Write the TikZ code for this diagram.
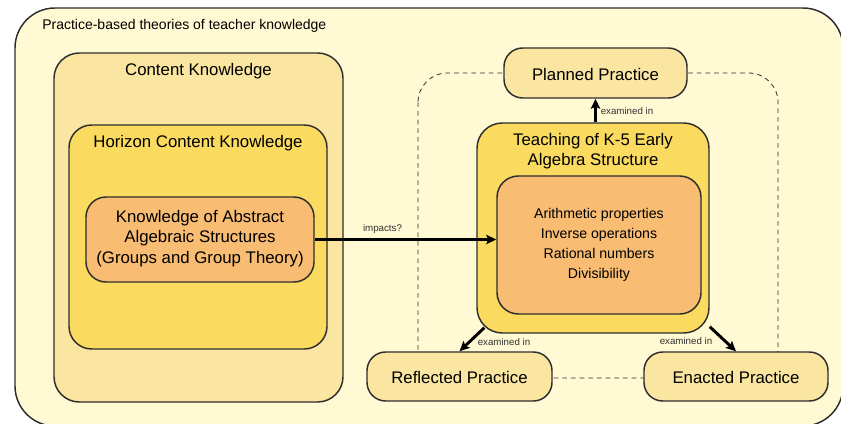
\documentclass[tikz,border=0pt]{standalone}
\usepackage{fontspec}
\setmainfont{Liberation Sans}
\usetikzlibrary{fit,calc,arrows.meta}

\definecolor{creamfill}{HTML}{FFF9D4}
\definecolor{paleorange}{HTML}{FAE5A1}
\definecolor{goldfill}{HTML}{FADB5F}
\definecolor{orangefill}{HTML}{F8BC72}
\definecolor{edgegray}{HTML}{2E2E2E}
\definecolor{labelgray}{HTML}{333333}

\tikzset{
  box/.style={draw=edgegray, line width=1.1pt, inner sep=0pt},
  boxtitle/.style={font=\fontsize{12.6}{15.4}\selectfont, align=center, inner sep=0.75pt},
  practicetext/.style={font=\fontsize{12.6}{15}\selectfont, inner sep=0.75pt},
  smalllabel/.style={font=\fontsize{7.3}{8.8}\selectfont, text=labelgray, inner sep=0.75pt},
  knowarrow/.style={-{Stealth[length=7.5pt,width=7pt,inset=1.5pt]}, line width=2.2pt},
}

\begin{document}
\begin{tikzpicture}[x=0.75pt,y=0.75pt,yscale=-1,xscale=1]
\useasboundingbox (0,0) rectangle (841,424);

%Shape: outer frame
\node [box, fill=creamfill, rounded corners=30pt, fit={(15,8) (843,426)}] (frame) {};
% Text Node
\node [anchor=west, inner sep=0.75pt, font=\fontsize{10.5}{12}\selectfont] (frametitle) at (41,26) {Practice-based theories of teacher knowledge};

%Shape: dashed cycle of practices
\draw [edgegray, line width=0.6pt, dash pattern=on 3.5pt off 3pt, rounded corners=22pt] (418,73) rectangle (778,378);

%Shape: left nest
\node [box, fill=paleorange, rounded corners=19pt, fit={(54,53) (343,402)}] (content) {};
\node [boxtitle] (contenttitle) at (198.5,71) {Content Knowledge};
\node [box, fill=goldfill, rounded corners=17pt, fit={(69,125) (327,349)}] (horizon) {};
\node [boxtitle] (horizontitle) at (198,143) {Horizon Content Knowledge};
\node [box, fill=orangefill, rounded corners=15pt, fit={(86,197) (314,282)}] (abstract) {};
\node [boxtitle] (abstracttext) at (200,238.5) {Knowledge of Abstract\\Algebraic Structures\\(Groups and Group Theory)};

%Shape: right nest
\node [box, fill=goldfill, rounded corners=19pt, fit={(477,123) (709,333)}] (teach) {};
\node [boxtitle] (teachtitle) at (593,151) {Teaching of K-5 Early\\Algebra Structure};
\node [box, fill=orangefill, rounded corners=16pt, fit={(497,176) (701,314)}] (topics) {};
\node [align=center, inner sep=0.75pt, font=\fontsize{10.6}{15}\selectfont] (topicstext) at (599,245) {Arithmetic properties\\Inverse operations\\Rational numbers\\Divisibility};

%Shape: practices
\node [box, fill=paleorange, rounded corners=14pt, fit={(504,48) (687,98)}] (planned) {};
\node [practicetext] (plannedtext) at (595.5,74) {Planned Practice};
\node [box, fill=paleorange, rounded corners=14pt, fit={(367,352) (552,401)}] (reflected) {};
\node [practicetext] (reflectedtext) at (459.5,377) {Reflected Practice};
\node [box, fill=paleorange, rounded corners=14pt, fit={(644,352) (828,401)}] (enacted) {};
\node [practicetext] (enactedtext) at (736,377) {Enacted Practice};

%Straight Lines
\draw [knowarrow] (abstract.east) -- (abstract.east -| topics.west);
\draw [knowarrow] (planned.south |- teach.north) -- (planned.south);
\draw [knowarrow] ($(teach.south west)+(8,-6)$) -- (reflected.north);
\draw [knowarrow] ($(teach.south east)+(0,-7)$) -- (enacted.north);

% Text Node
\node [smalllabel] (impactslbl) at (382.5,229) {impacts?};
\node [smalllabel, anchor=west] (plannedlbl) at (599.5,111) {examined in};
\node [smalllabel, anchor=west] (reflectedlbl) at (476.5,342) {examined in};
\node [smalllabel, anchor=east] (enactedlbl) at (713.5,341) {examined in};

\end{tikzpicture}
\end{document}
